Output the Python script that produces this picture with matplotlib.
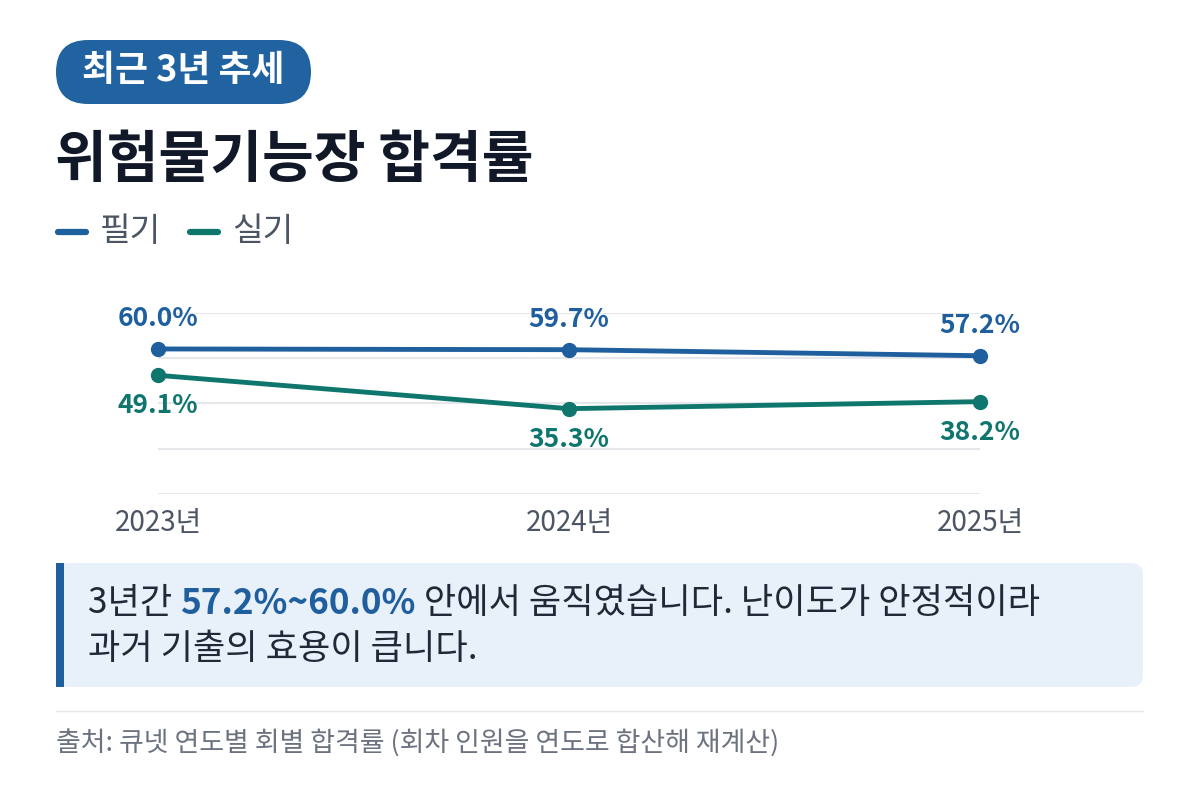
import matplotlib
matplotlib.use("Agg")
import matplotlib.pyplot as plt
from matplotlib.patches import FancyBboxPatch, Rectangle

plt.rcParams['font.family'] = ['Noto Sans CJK KR', 'DejaVu Sans']

# data
years = ["2023년", "2024년", "2025년"]
written = [60.0, 59.7, 57.2]   # 필기
practical = [49.1, 35.3, 38.2]  # 실기
series_names = ["필기", "실기"]

BLUE = "#1f5f9e"
GREEN = "#0f766e"
GRID = "#e5e7eb"

W, H = 1200, 800
fig = plt.figure(figsize=(12, 8), dpi=100)
fig.patch.set_facecolor("white")

# background axes in pixel units for decorations
bg = fig.add_axes([0, 0, 1, 1], zorder=0)
bg.set_xlim(0, W)
bg.set_ylim(H, 0)
bg.axis("off")

# badge
bg.add_patch(FancyBboxPatch((56, 40), 255, 64, boxstyle="round,pad=0,rounding_size=32",
                            fc="#2163a0", ec="none"))
bg.text(183.5, 71, "최근 3년 추세", color="white", fontsize=25.8, fontweight="bold",
        ha="center", va="center")

# title
bg.text(55, 161, "위험물기능장 합격률", color="#111827", fontsize=40.5, fontweight="bold",
        ha="left", va="center")

# legend
for i, (name, c) in enumerate(zip(series_names, [BLUE, GREEN])):
    x0 = 58 + i * 132
    bg.plot([x0, x0 + 28], [232, 232], color=c, lw=4.5, solid_capstyle="round")
    bg.text(x0 + 42, 231, name, color="#4b5563", fontsize=24, ha="left", va="center")

# callout box
bg.add_patch(FancyBboxPatch((56, 563), 1087, 124, boxstyle="round,pad=0,rounding_size=12",
                            fc="#e8f0f9", ec="none"))
bg.add_patch(Rectangle((56, 563), 8, 124, fc=BLUE, ec="none"))

# separator and source
bg.plot([56, 1143], [711, 711], color="#e5e7eb", lw=1)
bg.text(56, 744, "출처: 큐넷 연도별 회별 합격률 (회차 인원을 연도로 합산해 재계산)",
        color="#6b7280", fontsize=19.4, ha="left", va="center")

# line chart
ax = fig.add_axes([158 / W, 1 - 494 / H, (980 - 158) / W, (494 - 312.7) / H], zorder=1)
ax.patch.set_alpha(0)
xs = list(range(len(years)))
ax.set_xlim(0, len(years) - 1)
ax.set_ylim(0, 75)
for g in [0, 18.75, 37.5, 56.25, 75]:
    ax.axhline(g, color=GRID, lw=1.5, zorder=0)
for s in ax.spines.values():
    s.set_visible(False)
ax.set_yticks([])
ax.set_xticks(xs)
ax.set_xticklabels(years, fontsize=20, color="#4b5563")
ax.tick_params(axis="x", length=0, pad=10)

ax.plot(xs, written, color=BLUE, lw=3.5, marker="o", ms=10, clip_on=False, zorder=3)
ax.plot(xs, practical, color=GREEN, lw=3.5, marker="o", ms=10, clip_on=False, zorder=3)

for x, v in zip(xs, written):
    ax.annotate(f"{v:.1f}%", (x, v), xytext=(0, 22), textcoords="offset points",
                ha="center", va="center", fontsize=19, fontweight="bold", color=BLUE)
for x, v in zip(xs, practical):
    ax.annotate(f"{v:.1f}%", (x, v), xytext=(0, -22), textcoords="offset points",
                ha="center", va="center", fontsize=19, fontweight="bold", color=GREEN)

# callout text with inline bold part
fig.canvas.draw()
renderer = fig.canvas.get_renderer()
parts = [("3년간 ", "normal", "#1f2937"), ("57.2%~60.0%", "bold", BLUE),
         (" 안에서 움직였습니다. 난이도가 안정적이라", "normal", "#1f2937")]
xcur = 88
for txt, wt, c in parts:
    t = bg.text(xcur, 603, txt, fontsize=25.3, fontweight=wt, color=c, ha="left", va="center")
    bb = t.get_window_extent(renderer)
    xcur += bb.width
bg.text(88, 649, "과거 기출의 효용이 큽니다.", fontsize=25.3, color="#1f2937",
        ha="left", va="center")

fig.savefig("out.png", dpi=100)
